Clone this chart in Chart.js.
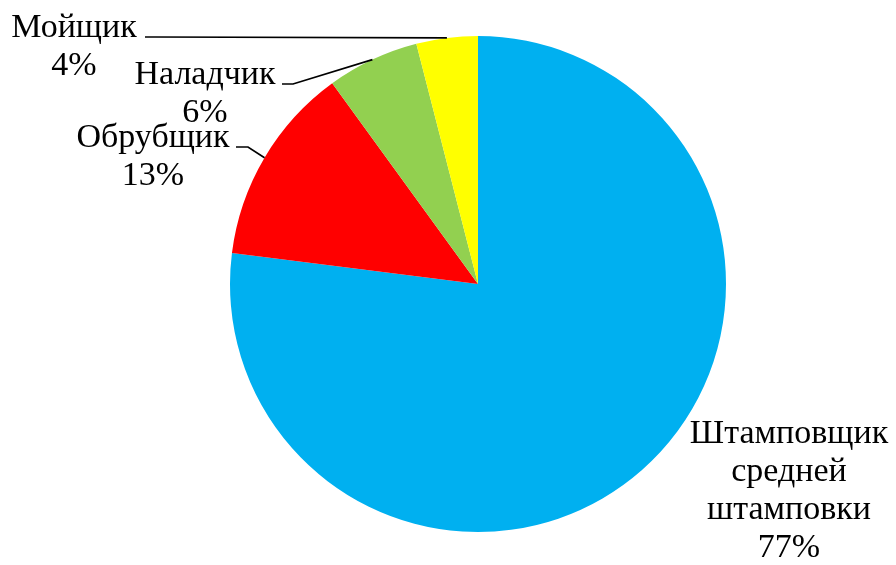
<!DOCTYPE html>
<html lang="ru">
<head>
    <meta charset="UTF-8">
    <title>Профессии</title>
    <script src="https://cdn.jsdelivr.net/npm/chart.js"></script>
    <style>
        html, body { margin: 0; padding: 0; background: #fff; }
        #wrap { width: 896px; height: 565px; position: relative; }
    </style>
</head>
<body>
    <div id="wrap"><canvas id="grafico"></canvas></div>

    <script>
        // Данные диаграммы
        const categorias = ['Штамповщик средней штамповки', 'Обрубщик', 'Наладчик', 'Мойщик'];
        const linhasRotulo = [['Штамповщик', 'средней', 'штамповки'], ['Обрубщик'], ['Наладчик'], ['Мойщик']];
        const valores = [77, 13, 6, 4];
        const cores = ['#00B0F0', '#FF0000', '#92D050', '#FFFF00'];

        // Posições dos rótulos (centro x, linha de base da primeira linha) e se têm linha guia
        const posRotulo = [
            { x: 789, y: 443, guia: false },
            { x: 153, y: 147, guia: true, x0: 236, x1: 248 },
            { x: 205, y: 84, guia: true, x0: 282, x1: 293 },
            { x: 74, y: 37, guia: true, x0: 145, x1: 155 }
        ];

        const FONTE = '34px "Liberation Serif", "Times New Roman", serif';
        const ALT_LINHA = 38;

        const pluginRotulos = {
            id: 'rotulos',
            afterDatasetsDraw(chart) {
                const ctx = chart.ctx;
                const meta = chart.getDatasetMeta(0);
                ctx.save();
                ctx.font = FONTE;
                ctx.fillStyle = '#000';
                ctx.textAlign = 'center';
                ctx.textBaseline = 'alphabetic';
                meta.data.forEach((arco, i) => {
                    const p = posRotulo[i];
                    const linhas = linhasRotulo[i].concat([valores[i] + '%']);
                    linhas.forEach((t, k) => ctx.fillText(t, p.x, p.y + k * ALT_LINHA));
                    if (p.guia) {
                        const { x, y, startAngle, endAngle, outerRadius } = arco.getProps(['x', 'y', 'startAngle', 'endAngle', 'outerRadius'], true);
                        const meio = (startAngle + endAngle) / 2;
                        const ex = x + Math.cos(meio) * outerRadius;
                        const ey = y + Math.sin(meio) * outerRadius;
                        ctx.strokeStyle = '#000';
                        ctx.lineWidth = 1.7;
                        ctx.beginPath();
                        ctx.moveTo(p.x0, p.y);
                        ctx.lineTo(p.x1, p.y);
                        ctx.lineTo(ex, ey);
                        ctx.stroke();
                    }
                });
                ctx.restore();
            }
        };

        new Chart(document.getElementById('grafico'), {
            type: 'pie',
            data: {
                labels: categorias,
                datasets: [{
                    data: valores,
                    backgroundColor: cores,
                    borderWidth: 0
                }]
            },
            options: {
                responsive: true,
                maintainAspectRatio: false,
                animation: false,
                layout: { padding: { left: 230, right: 170, top: 36, bottom: 33 } },
                plugins: {
                    legend: { display: false },
                    tooltip: { enabled: false }
                }
            },
            plugins: [pluginRotulos]
        });
    </script>
</body>
</html>
